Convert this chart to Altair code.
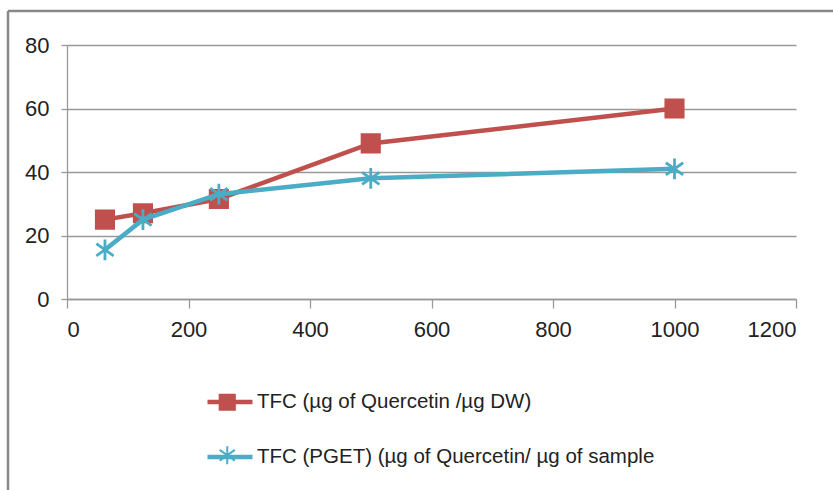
import altair as alt
import pandas as pd

conc = [62.5, 125, 250, 500, 1000]
tfc_dw = [25, 27, 31.5, 49, 60]
tfc_pget = [15.5, 25, 33, 38, 41]
names = ["TFC (µg of Quercetin /µg DW)", "TFC (PGET) (µg of Quercetin/ µg of sample"]
keys = ["k1", "k2"]
colors = ["#C0504D", "#4BACC6"]

rows = []
for n, k, vals in zip(names, keys, [tfc_dw, tfc_pget]):
    for c, v in zip(conc, vals):
        rows.append({"conc": c, "value": v, "series": n, "key": k})
df = pd.DataFrame(rows)

FONT = "Liberation Sans"
asterisk = "M0,-1.2V1.2M-1,-0.7L1,0.7M-1,0.7L1,-0.7"

x = alt.X("conc:Q", scale=alt.Scale(domain=[0, 1200], nice=False),
          axis=alt.Axis(values=[0, 200, 400, 600, 800, 1000, 1200], grid=False,
                        tickSize=9, labelPadding=11, title=None, format="d",
                        labelFontSize=22))
y = alt.Y("value:Q", scale=alt.Scale(domain=[0, 80], nice=False),
          axis=alt.Axis(values=[0, 20, 40, 60, 80], grid=True, tickSize=6,
                        labelPadding=12, title=None, labelFontSize=22))

color_scale = alt.Scale(domain=names, range=colors)
key_color_scale = alt.Scale(domain=keys, range=colors)
shape_scale = alt.Scale(domain=keys, range=["square", asterisk])

line_legend = alt.Legend(orient="none", legendX=138, legendY=332, title=None,
                         symbolType="stroke", symbolSize=2025, symbolStrokeWidth=4.5,
                         labelFont=FONT, labelFontSize=20.5, labelColor="#222",
                         labelOffset=2, rowPadding=19, padding=0, symbolOffset=0,
                         labelLimit=600)
pt_legend = alt.Legend(orient="none", legendX=150, legendY=347, title=None,
                       symbolSize=230, symbolStrokeWidth=2, labelOpacity=0,
                       labelExpr="''",
                       labelFont=FONT, labelFontSize=20.5, rowPadding=28, padding=0,
                       symbolOffset=0, labelLimit=600)

layers = []
for i, n in enumerate(names):
    base = alt.Chart(df).transform_filter(alt.datum.series == n)
    ln = base.mark_line(strokeWidth=4.5).encode(
        x=x, y=y,
        color=alt.Color("series:N", scale=color_scale, legend=line_legend))
    pt = base.mark_point(opacity=1, strokeWidth=2.8, size=300).encode(
        x=x, y=y,
        fill=alt.Fill("key:N", scale=key_color_scale, legend=pt_legend),
        stroke=alt.Stroke("key:N", scale=key_color_scale, legend=pt_legend),
        shape=alt.Shape("key:N", scale=shape_scale, legend=pt_legend))
    layers += [ln, pt]

frame = alt.Data(values=[{}])
left_border = alt.Chart(frame).mark_rule(color="#888", strokeWidth=2.5).encode(
    x=alt.value(-59), y=alt.value(-34), y2=alt.value(445))
top_border = alt.Chart(frame).mark_rule(color="#888", strokeWidth=2.5).encode(
    x=alt.value(-59), x2=alt.value(766), y=alt.value(-34))

chart = alt.layer(*layers, left_border, top_border).properties(
    width=729, height=254,
    autosize=alt.AutoSizeParams(type="none"),
    padding={"left": 67, "top": 45, "right": 37, "bottom": 191},
    background="white",
).configure_view(stroke=None).configure_axis(
    labelFont=FONT, labelColor="#222",
    domainColor="#999", tickColor="#999", gridColor="#999",
    domainWidth=1.3, tickWidth=1.3, gridWidth=1.3,
)

chart.save("out.html", embed_options={"renderer": "svg", "actions": False})
